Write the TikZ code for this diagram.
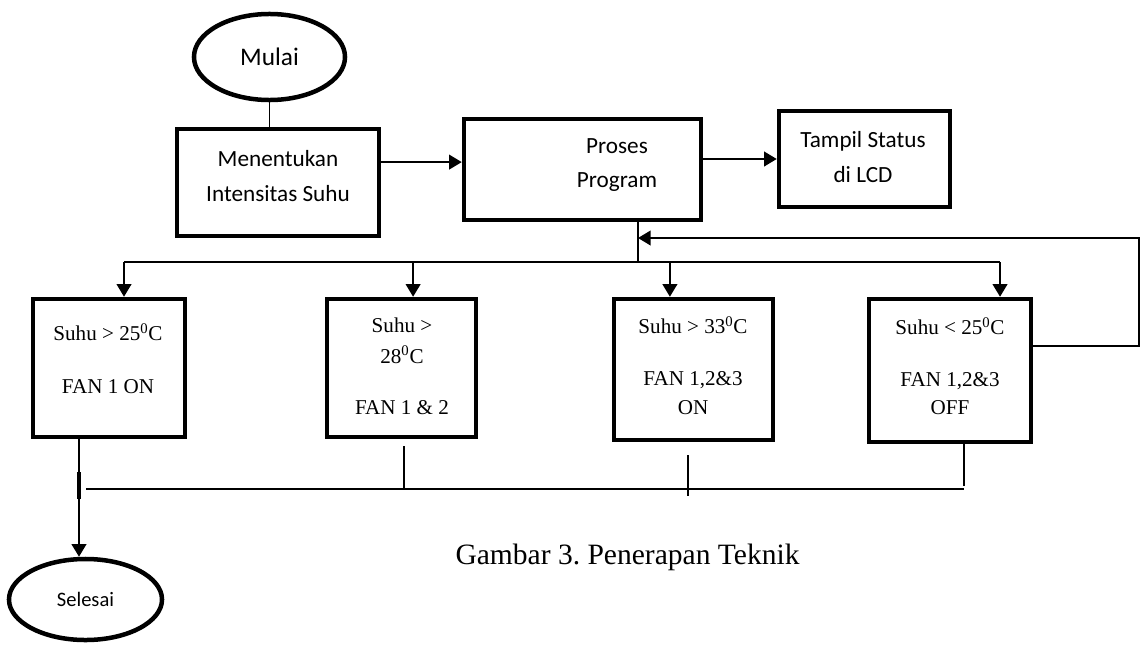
\documentclass[tikz,border=0pt]{standalone}
\usepackage{fontspec}
\setmainfont{Liberation Serif}
\newfontfamily\calibri{Carlito}
\usetikzlibrary{shapes.geometric,arrows.meta}
\frenchspacing

\begin{document}
\begin{tikzpicture}[
  x=0.025cm,
  y=-0.025cm,
  box/.style={
    draw,
    line width=3.2pt,
    inner sep=0pt
  },
  oval/.style={
    box,
    ellipse,
    font=\calibri
  },
  sans/.style={
    font=\calibri\fontsize{16.5}{24.5}\selectfont,
    align=center,
    inner sep=0pt
  },
  serif/.style={
    font=\fontsize{15}{20}\selectfont,
    align=center,
    inner sep=0pt
  },
  conn/.style={
    line width=1.2pt
  },
  arr/.style={
    conn,
    -{Triangle[length=9pt,width=10.5pt]}
  },
]
\useasboundingbox (0,0) rectangle (1141,644);

% start, input, process, output
\node[oval, minimum width=3.775cm, minimum height=2.15cm,
  font=\calibri\fontsize{18}{20}\selectfont] (mulai) at (269.5,57) {Mulai};
\node[box, minimum width=5.05cm, minimum height=2.675cm] (tentukan) at (278,182.5) {};
\node[sans] (tentukanT) at (278,176) {Menentukan\\Intensitas Suhu};
\node[box, minimum width=5.925cm, minimum height=2.525cm] (proses) at (582.5,169.5) {};
\node[sans] (prosesT) at (617,165) {Proses\\Program};
\node[box, minimum width=4.275cm, minimum height=2.4cm] (tampil) at (864.5,159) {};
\node[sans] (tampilT) at (863,157) {Tampil Status\\di LCD};

% conditions
\node[box, minimum width=3.8cm, minimum height=3.45cm] (box1) at (109,368) {};
\node[box, minimum width=3.725cm, minimum height=3.45cm] (box2) at (401.5,368) {};
\node[box, minimum width=3.975cm, minimum height=3.525cm] (box3) at (693.5,369.5) {};
\node[box, minimum width=4.05cm, minimum height=3.575cm] (box4) at (950,370.5) {};
\node[serif] (box1T) at (108,358.5) {Suhu > 25\textsuperscript{0}C\\[17.7pt]FAN 1 ON};
\node[serif] (box2T) at (402,366) {Suhu >\\[2pt]28\textsuperscript{0}C\\[16.3pt]FAN 1 \& 2};
\node[serif] (box3T) at (693,365.5) {Suhu > 33\textsuperscript{0}C\\[17pt]FAN 1,2\&3\\ON};
\node[serif] (box4T) at (950,366) {Suhu < 25\textsuperscript{0}C\\[17pt]FAN 1,2\&3\\OFF};

% end
\node[oval, minimum width=3.825cm, minimum height=2.025cm,
  font=\calibri\fontsize{14.6}{16}\selectfont] (selesai) at (85.5,599.5) {Selesai};

\node[font=\fontsize{21}{24}\selectfont] (caption) at (627.5,557) {Gambar 3. Penerapan Teknik};

\coordinate (bus) at (638,262);
\coordinate (back) at (1139,238);
\coordinate (jL) at (86,489);
\coordinate (in1) at ([xshift=0.375cm]box1.north);
\coordinate (in2) at ([xshift=0.29cm]box2.north);
\coordinate (in3) at ([xshift=-0.59cm]box3.north);
\coordinate (in4) at ([xshift=1.25cm]box4.north);
\coordinate (out1) at ([xshift=-0.75cm]box1.south);
\coordinate (out2) at ([xshift=0.06cm,yshift=-0.18cm]box2.south);
\coordinate (out3) at ([xshift=-0.14cm,yshift=-0.33cm]box3.south);
\coordinate (out4) at ([xshift=0.35cm]box4.south);

\draw[conn] (mulai.south) -- (mulai.south |- tentukan.north);
\draw[arr] ([yshift=0.51cm]tentukan.east) coordinate (a) -- (a -| proses.west);
\draw[arr] (proses.east |- tampil.west) -- (tampil.west);
\draw[conn] (proses.south -| bus) -- (bus);
\draw[conn] (in1 |- bus) -- (in4 |- bus);
\foreach \i in {1,...,4}
  \draw[arr] (in\i |- bus) -- (in\i);
\draw[arr] ([yshift=0.61cm]box4.east) -| (back) -- (back -| bus);

\draw[arr] (out1) -- (out1 |- selesai.north);
\draw[line width=2.2pt] ([yshift=-0.825cm]out1) -- ([yshift=-1.5cm]out1);
\draw[conn] (jL) -- (out4 |- jL);
\draw[conn] (out2) -- (out2 |- jL);
\draw[conn] (out3) -- ([yshift=-0.18cm]out3 |- jL);
\draw[conn] (out4) -- ([yshift=0.08cm]out4 |- jL);
\end{tikzpicture}
\end{document}
